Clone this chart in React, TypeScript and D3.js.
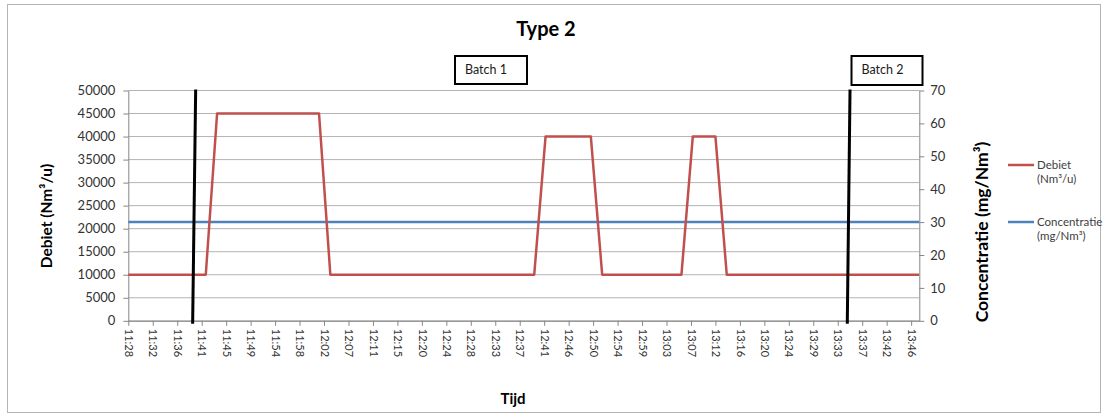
import { useEffect, useRef } from 'react'
import * as d3 from 'd3'

// Debiet (Nm³/u) – corner points of the flow profile
const debietTimes = ['11:28', '11:42', '11:44', '12:02', '12:04', '12:40', '12:42', '12:50', '12:52', '13:06', '13:08', '13:12', '13:14', '13:48']
const debietValues = [10000, 10000, 45000, 45000, 10000, 10000, 40000, 40000, 10000, 10000, 40000, 40000, 10000, 10000]

// Concentratie (mg/Nm³) – constant
const concentratieTimes = ['11:28', '13:48']
const concentratieValues = [30, 30]

const xTickLabels = [
  '11:28', '11:32', '11:36', '11:41', '11:45', '11:49', '11:54', '11:58', '12:02', '12:07', '12:11',
  '12:15', '12:20', '12:24', '12:28', '12:33', '12:37', '12:41', '12:46', '12:50', '12:54', '12:59',
  '13:03', '13:07', '13:12', '13:16', '13:20', '13:24', '13:29', '13:33', '13:37', '13:42', '13:46',
]
const leftTicks = [0, 5000, 10000, 15000, 20000, 25000, 30000, 35000, 40000, 45000, 50000]
const rightTicks = [0, 10, 20, 30, 40, 50, 60, 70]

// batch start markers (drawn slightly slanted in the original)
const batchLabels = ['Batch 1', 'Batch 2']
const batchTopTimes = ['11:40:13', '13:35:46']
const batchBottomTimes = ['11:39:41', '13:35:17']

// x axis in Excel day fractions
const xMin = 0.478
const xMax = 0.575
const xMajor = 0.003

const toDay = (s: string) => {
  const [h, m, sec] = s.split(':').map(Number)
  return (h * 3600 + m * 60 + (sec || 0)) / 86400
}

const FONT = 'Lato, "Open Sans", sans-serif'
const RED = '#c0504d'
const BLUE = '#4f81bd'

export default function App() {
  const svgRef = useRef<SVGSVGElement>(null)
  const width = 1108
  const height = 415

  useEffect(() => {
    if (!svgRef.current) return
    const svg = d3.select(svgRef.current)
    svg.selectAll('*').remove()

    const plot = { left: 128.3, right: 919.3, top: 90.5, bottom: 320.8 }

    const x = d3.scaleLinear().domain([xMin, xMax]).range([plot.left, plot.right])
    const yL = d3.scaleLinear().domain([0, 50000]).range([plot.bottom, plot.top])
    const yR = d3.scaleLinear().domain([0, 70]).range([plot.bottom, plot.top])

    // chart area border
    svg.append('rect')
      .attr('x', 7.5).attr('y', 4.5)
      .attr('width', 1093).attr('height', 408)
      .attr('fill', 'white')
      .attr('stroke', '#b4b4b4')

    // title
    svg.append('text')
      .attr('x', 546).attr('y', 36)
      .attr('text-anchor', 'middle')
      .style('font-family', FONT)
      .style('font-weight', 'bold')
      .style('font-size', '20px')
      .text('Type 2')

    // gridlines
    svg.append('g')
      .selectAll('line')
      .data(leftTicks)
      .enter().append('line')
      .attr('x1', plot.left).attr('x2', plot.right)
      .attr('y1', d => yL(d)).attr('y2', d => yL(d))
      .attr('stroke', '#b3b3b3')
      .attr('stroke-width', 1)

    // axes
    const tickVals = xTickLabels.map((_, i) => xMin + i * xMajor)
    const gx = svg.append('g')
      .attr('transform', `translate(0,${plot.bottom})`)
      .call(d3.axisBottom(x).tickValues(tickVals).tickSize(5).tickSizeOuter(0).tickFormat((_, i) => xTickLabels[i]))
    gx.selectAll('text')
      .attr('transform', 'rotate(90)')
      .attr('x', 8).attr('y', 0).attr('dy', '0.35em')
      .attr('text-anchor', 'start')

    const gl = svg.append('g')
      .attr('transform', `translate(${plot.left},0)`)
      .call(d3.axisLeft(yL).tickValues(leftTicks).tickSize(5).tickSizeOuter(0).tickPadding(8).tickFormat(d3.format('d')))

    const gr = svg.append('g')
      .attr('transform', `translate(${plot.right},0)`)
      .call(d3.axisRight(yR).tickValues(rightTicks).tickSize(5).tickSizeOuter(0).tickPadding(6).tickFormat(d3.format('d')))

    for (const g of [gx, gl, gr]) {
      g.select('.domain').attr('stroke', '#868686')
      g.selectAll('.tick line').attr('stroke', '#868686')
      g.selectAll('text')
        .style('font-family', FONT)
        .style('fill', '#333333')
    }
    gx.selectAll('text').style('font-size', '11px')
    gl.selectAll('text').style('font-size', '13px')
    gr.selectAll('text').style('font-size', '13px')

    // axis titles
    svg.append('text')
      .attr('transform', 'translate(52,216) rotate(-90)')
      .attr('text-anchor', 'middle')
      .style('font-family', FONT).style('font-weight', 'bold').style('font-size', '15.5px')
      .text('Debiet (Nm³/u)')

    svg.append('text')
      .attr('transform', 'translate(988,232) rotate(-90)')
      .attr('text-anchor', 'middle')
      .style('font-family', FONT).style('font-weight', 'bold').style('font-size', '17.5px')
      .text('Concentratie (mg/Nm³)')

    svg.append('text')
      .attr('x', 513).attr('y', 404)
      .attr('text-anchor', 'middle')
      .style('font-family', FONT).style('font-weight', 'bold').style('font-size', '15px')
      .text('Tijd')

    // clip series to plot
    svg.append('clipPath').attr('id', 'plotClip')
      .append('rect')
      .attr('x', plot.left).attr('y', plot.top - 5)
      .attr('width', plot.right - plot.left).attr('height', plot.bottom - plot.top + 10)

    const concData = concentratieTimes.map((t, i) => [toDay(t), concentratieValues[i]] as [number, number])
    const debData = debietTimes.map((t, i) => [toDay(t), debietValues[i]] as [number, number])

    svg.append('path')
      .datum(concData)
      .attr('clip-path', 'url(#plotClip)')
      .attr('fill', 'none')
      .attr('stroke', BLUE)
      .attr('stroke-width', 2.5)
      .attr('d', d3.line<[number, number]>().x(d => x(d[0])).y(d => yR(d[1])))

    svg.append('path')
      .datum(debData)
      .attr('clip-path', 'url(#plotClip)')
      .attr('fill', 'none')
      .attr('stroke', RED)
      .attr('stroke-width', 2.5)
      .attr('stroke-linejoin', 'round')
      .attr('d', d3.line<[number, number]>().x(d => x(d[0])).y(d => yL(d[1])))

    // batch marker lines
    svg.append('g')
      .selectAll('line')
      .data(batchLabels)
      .enter().append('line')
      .attr('x1', (_, i) => x(toDay(batchTopTimes[i])))
      .attr('x2', (_, i) => x(toDay(batchBottomTimes[i])))
      .attr('y1', plot.top - 1)
      .attr('y2', plot.bottom + 3)
      .attr('stroke', 'black')
      .attr('stroke-width', 3)

    // batch label boxes
    const boxes = [{ x: 455, y: 56, w: 72, h: 28 }, { x: 851.5, y: 56, w: 71, h: 29 }]
    boxes.forEach((b, i) => {
      svg.append('rect')
        .attr('x', b.x).attr('y', b.y).attr('width', b.w).attr('height', b.h)
        .attr('fill', 'white').attr('stroke', 'black').attr('stroke-width', 2)
      svg.append('text')
        .attr('x', b.x + 10).attr('y', b.y + 18)
        .style('font-family', FONT).style('font-size', '12.5px').style('fill', '#1a1a1a')
        .text(batchLabels[i])
    })

    // legend
    const legend = [
      { color: RED, lines: ['Debiet', '(Nm³/u)'], y: 165 },
      { color: BLUE, lines: ['Concentratie', '(mg/Nm³)'], y: 222 },
    ]
    legend.forEach(l => {
      svg.append('line')
        .attr('x1', 1008).attr('x2', 1034)
        .attr('y1', l.y).attr('y2', l.y)
        .attr('stroke', l.color).attr('stroke-width', 2.5)
      l.lines.forEach((t, j) => {
        svg.append('text')
          .attr('x', 1037).attr('y', l.y + 4 + j * 14)
          .style('font-family', FONT).style('font-size', '11.5px').style('fill', '#404040')
          .text(t)
      })
    })
  }, [])

  return (
    <svg
      ref={svgRef}
      width={width}
      height={height}
      style={{ position: 'absolute', left: 0, top: 0, background: 'white' }}
    />
  )
}
